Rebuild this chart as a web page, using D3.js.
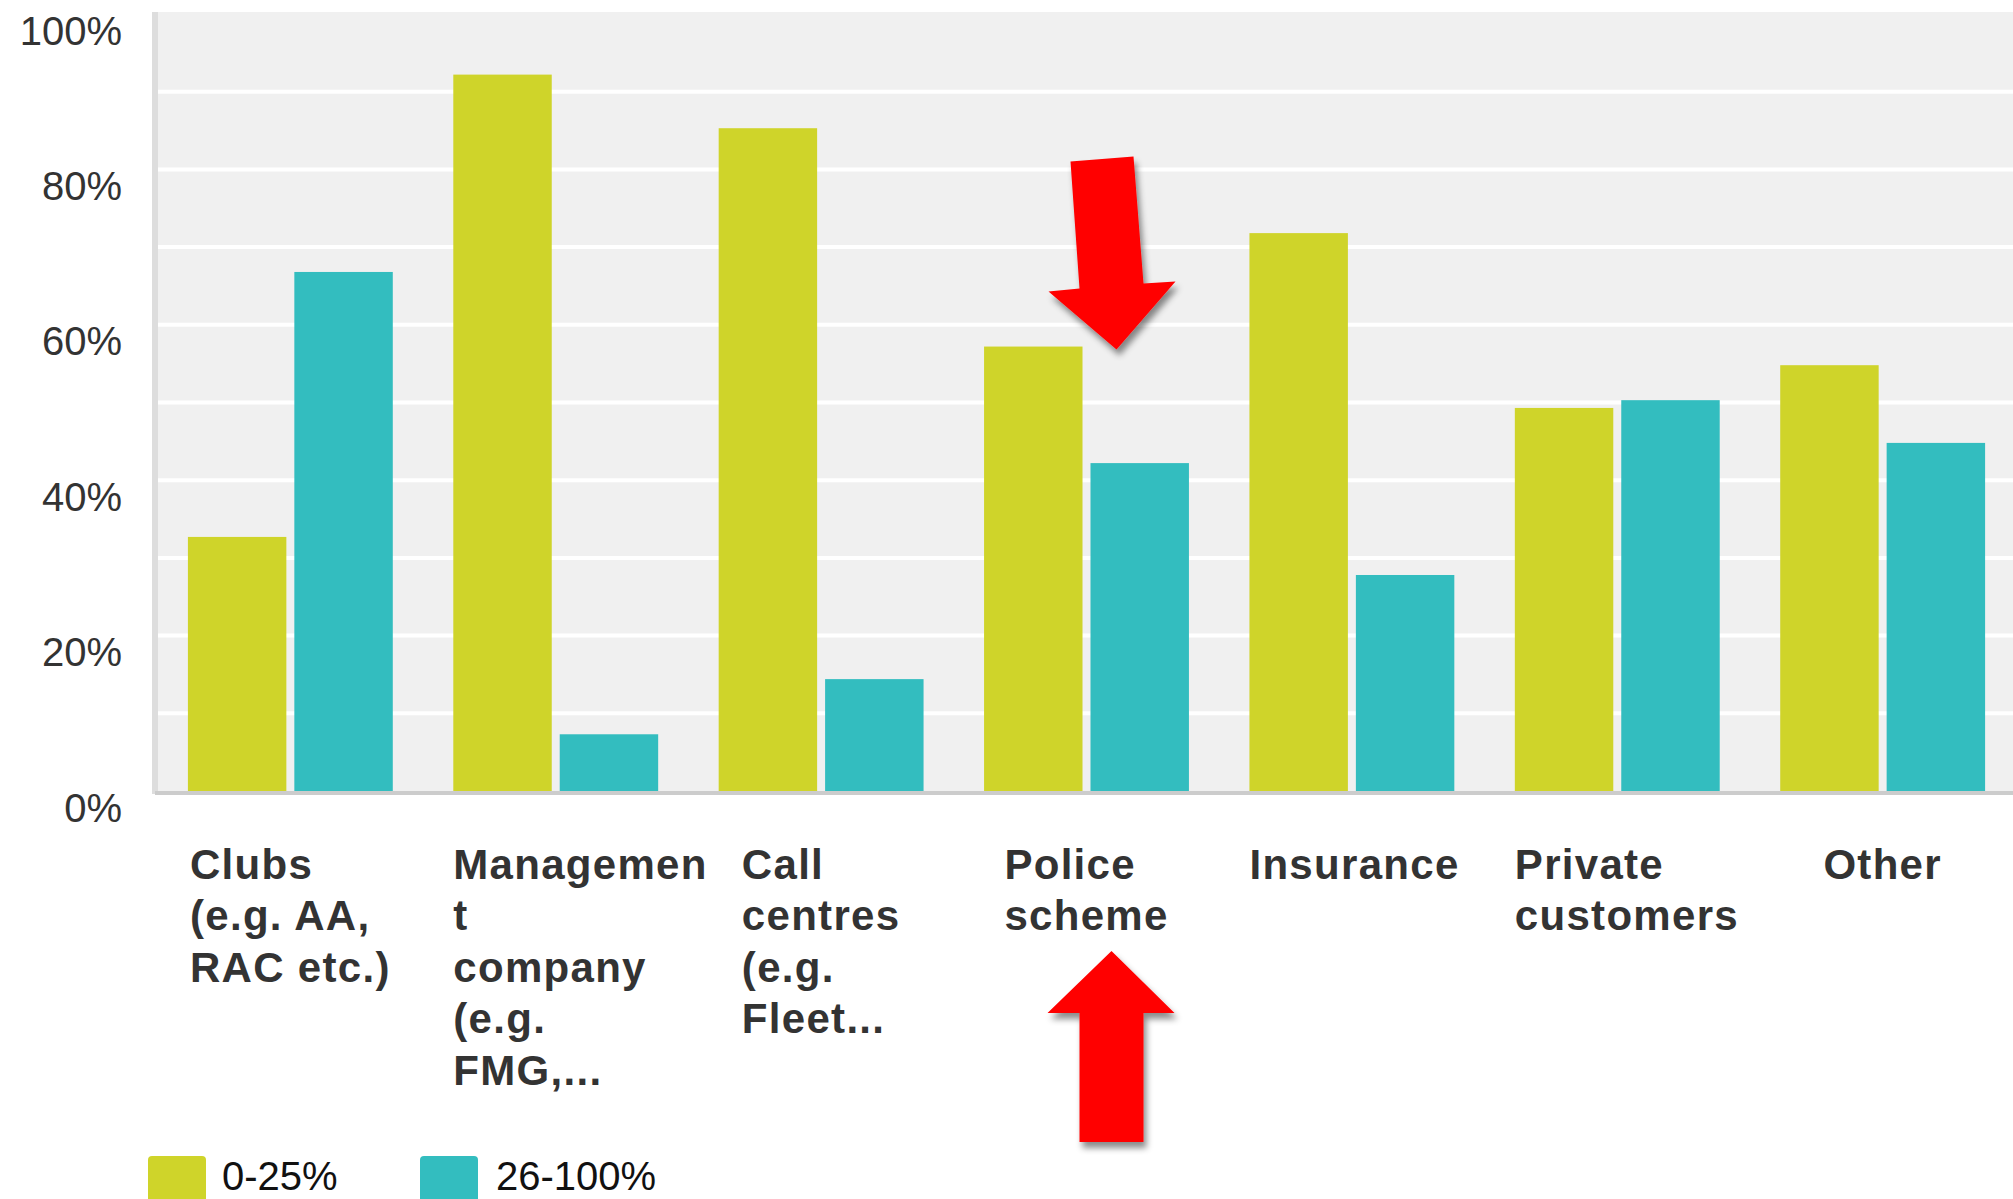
<!DOCTYPE html>
<html>
<head>
<meta charset="utf-8">
<script src="https://cdn.jsdelivr.net/npm/d3@7"></script>
<style>
  html, body { margin: 0; padding: 0; background: #ffffff; }
  svg { display: block; }
</style>
</head>
<body>
<svg id="chart" width="2013" height="1199"></svg>
<script>
// ---- data ----
const categories = ["Clubs", "Management company", "Call centres", "Police scheme", "Insurance", "Private customers", "Other"];
const categoryLines = [
  ["Clubs", "(e.g. AA,", "RAC etc.)"],
  ["Managemen", "t", "company", "(e.g.", "FMG,..."],
  ["Call", "centres", "(e.g.", "Fleet..."],
  ["Police", "scheme"],
  ["Insurance"],
  ["Private", "customers"],
  ["Other"]
];
const seriesNames = ["0-25%", "26-100%"];
const low  = [32.7, 92.2, 85.3, 57.2, 71.8, 49.3, 54.8];
const high = [66.8, 7.3, 14.4, 42.2, 27.8, 50.3, 44.8];
const yTicks = [0, 20, 40, 60, 80, 100];
const gridTicks = [10, 20, 30, 40, 50, 60, 70, 80, 90];
const seriesColors = ["#cfd42a", "#33bdbf"];

// ---- layout ----
const plotLeft = 158, plotRight = 2013, plotTop = 12, plotBottom = 791;

const svg = d3.select("#chart");

const x = d3.scaleBand().domain(categories).range([155, 2018]).paddingInner(0.228).paddingOuter(0.124);
const xSub = d3.scaleBand().domain(seriesNames).range([0, x.bandwidth()]).paddingInner(0.075);
const y = d3.scaleLinear().domain([0, 100]).range([plotBottom, 14]);
const color = d3.scaleOrdinal().domain(seriesNames).range(seriesColors);

// defs: shadow
const defs = svg.append("defs");
const f = defs.append("filter").attr("id", "shadow").attr("x", "-30%").attr("y", "-30%").attr("width", "160%").attr("height", "160%");
f.append("feDropShadow").attr("dx", 3).attr("dy", 6).attr("stdDeviation", 3).attr("flood-color", "#000").attr("flood-opacity", 0.45);

// plot background
svg.append("rect").attr("x", plotLeft).attr("y", plotTop).attr("width", plotRight - plotLeft).attr("height", plotBottom - plotTop).attr("fill", "#f0f0f0");

// gridlines
svg.append("g").selectAll("line").data(gridTicks).join("line")
  .attr("x1", plotLeft).attr("x2", plotRight)
  .attr("y1", d => y(d)).attr("y2", d => y(d))
  .attr("stroke", "#ffffff").attr("stroke-width", 4);

// bars
const rows = categories.map((c, i) => ({ cat: c, values: [low[i], high[i]] }));
const groups = svg.append("g").selectAll("g").data(rows).join("g")
  .attr("transform", d => `translate(${x(d.cat)},0)`);
groups.selectAll("rect").data(d => d.values.map((v, j) => ({ s: seriesNames[j], v }))).join("rect")
  .attr("x", d => xSub(d.s))
  .attr("width", xSub.bandwidth())
  .attr("y", d => y(d.v))
  .attr("height", d => y(0) - y(d.v))
  .attr("fill", d => color(d.s));

// axis lines
svg.append("rect").attr("x", 152).attr("y", plotTop).attr("width", 6).attr("height", plotBottom - plotTop + 3).attr("fill", "#dddddd");
svg.append("rect").attr("x", 155).attr("y", plotBottom).attr("width", plotRight - 155).attr("height", 4).attr("fill", "#cccccc");

// y axis labels
const yAxis = d3.axisLeft(y).tickValues(yTicks).tickSize(0).tickPadding(0).tickFormat(d => d + "%");
const yg = svg.append("g").attr("transform", "translate(122,0)").call(yAxis);
yg.select(".domain").remove();
yg.selectAll("text")
  .attr("dy", 30)
  .attr("font-family", "'Liberation Sans', Arial, sans-serif")
  .attr("font-size", 40)
  .attr("fill", "#333333");

// category labels
const labelFont = "'Liberation Sans', Arial, sans-serif";
const lg = svg.append("g");
categories.forEach((c, i) => {
  const t = lg.append("text")
    .attr("font-family", labelFont)
    .attr("font-size", 42)
    .attr("font-weight", "bold")
    .attr("letter-spacing", 1.3)
    .attr("fill", "#333333");
  categoryLines[i].forEach((line, k) => {
    t.append("tspan").attr("x", 0).attr("y", 879 + k * 51.4).text(line);
  });
  const w = t.node().getBBox().width;
  const center = x(c) + x.bandwidth() / 2;
  const left = Math.max(x(c), center - w / 2);
  t.attr("transform", `translate(${left},0)`);
});

// legend
const legendItems = [
  { s: seriesNames[0], sx: 148, tx: 222 },
  { s: seriesNames[1], sx: 420, tx: 496 }
];
const leg = svg.append("g");
legendItems.forEach(d => {
  leg.append("rect").attr("x", d.sx).attr("y", 1156).attr("width", 58).attr("height", 58).attr("rx", 4).attr("fill", color(d.s));
  leg.append("text").attr("x", d.tx).attr("y", 1190)
    .attr("font-family", labelFont).attr("font-size", 40).attr("fill", "#111111").text(d.s);
});

// annotation arrows pointing at "Police scheme"
const pc = x("Police scheme") + x.bandwidth() / 2;
const downTip = [pc + 30, y(57.2) + 3];
const downArrow = [[-46, -188], [17, -193], [27, -66], [59, -68], [0, 0], [-68, -58], [-37, -61]];
svg.append("polygon")
  .attr("points", downArrow.map(p => [downTip[0] + p[0], downTip[1] + p[1]].join(",")).join(" "))
  .attr("fill", "#ff0000").attr("filter", "url(#shadow)");

const upTip = [pc + 25, 951];
const upArrow = [[0, 0], [63, 62], [32, 62], [32, 191], [-32, 191], [-32, 62], [-64, 62]];
svg.append("polygon")
  .attr("points", upArrow.map(p => [upTip[0] + p[0], upTip[1] + p[1]].join(",")).join(" "))
  .attr("fill", "#ff0000").attr("filter", "url(#shadow)");
</script>
</body>
</html>
